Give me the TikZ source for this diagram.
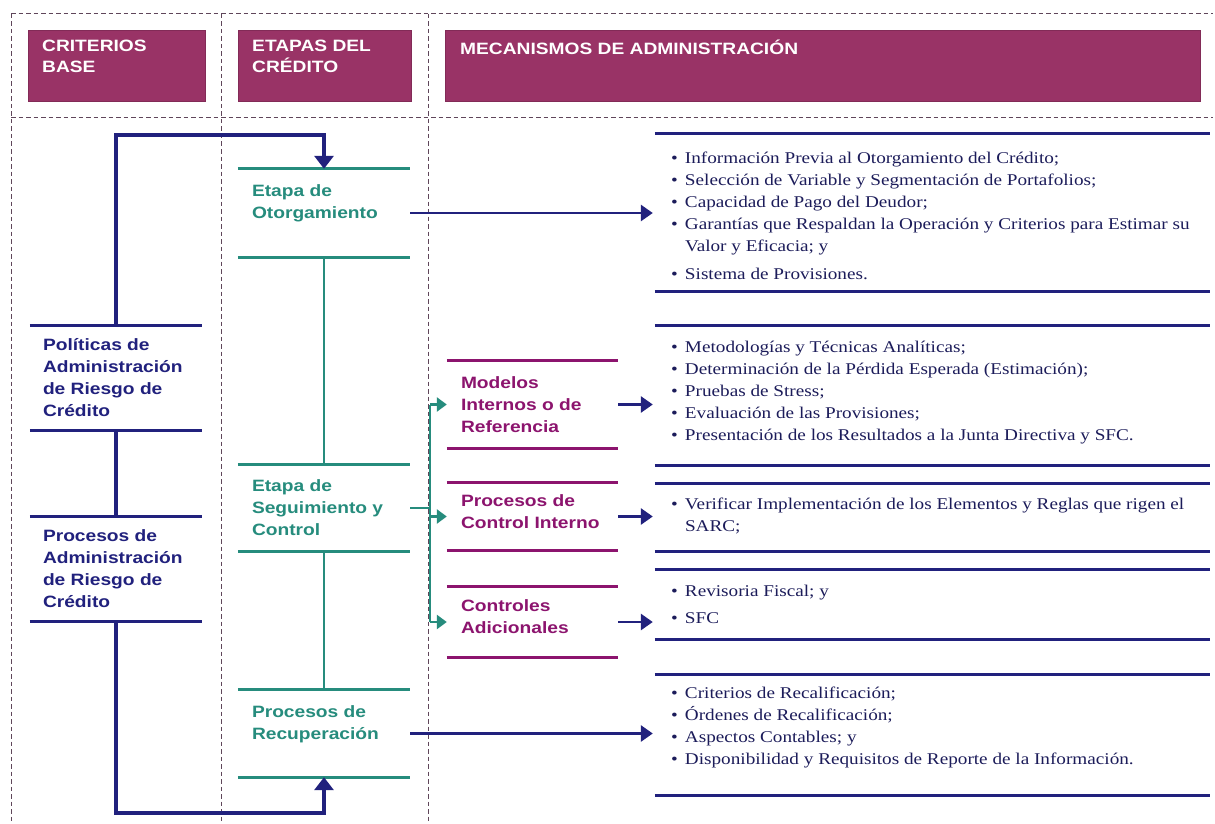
\documentclass[tikz,border=0pt]{standalone}
\usepackage{fontspec}
\setmainfont{Liberation Serif}[FakeStretch=1.17]
\setsansfont{Liberation Sans}[FakeStretch=1.17]
\usetikzlibrary{arrows.meta,calc}
\definecolor{chdr}{RGB}{153,51,102}
\definecolor{cnavy}{RGB}{33,33,125}
\definecolor{cteal}{RGB}{38,140,125}
\definecolor{cpurp}{RGB}{140,20,110}
\definecolor{ctext}{RGB}{28,28,90}
\definecolor{cdash}{RGB}{95,70,90}
\newcommand{\bul}{\makebox[14pt][l]{•}}
\begin{document}
\begin{tikzpicture}[x=1pt,y=-1pt,
  grid/.style={cdash, dash pattern=on 4.5pt off 3pt, line width=1pt},
  hdr/.style={fill=chdr, draw=chdr!85!black, line width=0.5pt, anchor=north west, minimum height=71pt, inner sep=0pt},
  hdrtxt/.style={text=white, font=\sffamily\bfseries\fontsize{16.4}{21}\selectfont, align=left, anchor=north west, inner sep=0pt},
  box/.style={inner sep=0pt, draw=none},
  sanslbl/.style={font=\sffamily\bfseries\fontsize{16.4}{22}\selectfont, align=left, anchor=west, inner sep=0pt},
  serlbl/.style={font=\rmfamily\fontsize{16.4}{22}\selectfont, text=ctext, align=left, anchor=west, inner sep=0pt},
  nline/.style={cnavy, line width=2.8pt},
  tline/.style={cteal, line width=2.8pt},
  pline/.style={cpurp, line width=2.8pt},
  nconn/.style={cnavy, line width=3.2pt, -{Triangle[width=19pt,length=13pt]}},
  narrow/.style={cnavy, line width=2.8pt, -{Triangle[width=16pt,length=12pt]}, shorten >=2pt},
  tarrow/.style={cteal, line width=2.8pt, -{Triangle[width=14pt,length=10pt]}}
]
\useasboundingbox (0,0) rectangle (1215,824);
\fill[white] (0,0) rectangle (1215,824);

% dashed grid
\draw[grid] (11,14) -- (1213,14);
\draw[grid] (11,118) -- (1213,118);
\draw[grid] (11,14) -- (11,824);
\draw[grid] (221,14) -- (221,824);
\draw[grid] (428,14) -- (428,824);

% headers
\node[hdr, minimum width=177pt] (h1) at (28,30) {};
\node[hdr, minimum width=173pt] (h2) at (238,30) {};
\node[hdr, minimum width=755pt] (h3) at (445,30) {};
\node[hdrtxt] (h1t) at ($(h1.north west)+(14,10)$) {CRITERIOS\\BASE};
\node[hdrtxt] (h2t) at ($(h2.north west)+(14,10)$) {ETAPAS DEL\\CRÉDITO};
\node[hdrtxt] (h3t) at ($(h3.north west)+(15,10)$) {MECANISMOS DE ADMINISTRACIÓN};

% left column boxes
\node[box, minimum width=172pt, minimum height=104pt] (pol) at (116,378) {};
\node[box, minimum width=172pt, minimum height=104pt] (proc) at (116,569) {};
% middle column boxes
\node[box, minimum width=172pt, minimum height=88pt] (oto) at (324,213) {};
\node[box, minimum width=172pt, minimum height=86pt] (seg) at (324,508) {};
\node[box, minimum width=172pt, minimum height=87pt] (rec) at (324,733.5) {};
% purple boxes
\node[box, minimum width=171pt, minimum height=87pt] (mod) at (532.5,404.5) {};
\node[box, minimum width=171pt, minimum height=67pt] (ctl) at (532.5,516.5) {};
\node[box, minimum width=171pt, minimum height=70pt] (adi) at (532.5,622) {};
% right groups
\node[box, minimum width=555pt, minimum height=157pt] (g1) at (932.5,212.5) {};
\node[box, minimum width=555pt, minimum height=139pt] (g2) at (932.5,395.5) {};
\node[box, minimum width=555pt, minimum height=67pt] (g3) at (932.5,517.5) {};
\node[box, minimum width=555pt, minimum height=69pt] (g4) at (932.5,604.5) {};
\node[box, minimum width=555pt, minimum height=120pt] (g5) at (932.5,735) {};

% box rules
\foreach \n in {pol,proc,g1,g2,g3,g4,g5}
  \draw[nline] (\n.north west) -- (\n.north east) (\n.south west) -- (\n.south east);
\foreach \n in {oto,seg,rec}
  \draw[tline] (\n.north west) -- (\n.north east) (\n.south west) -- (\n.south east);
\foreach \n in {mod,ctl,adi}
  \draw[pline] (\n.north west) -- (\n.north east) (\n.south west) -- (\n.south east);

% texts
\node[sanslbl, text=cnavy, xshift=13pt] (polt) at (pol.west) {Políticas de\\Administración\\de Riesgo de\\Crédito};
\node[sanslbl, text=cnavy, xshift=13pt] (proct) at (proc.west) {Procesos de\\Administración\\de Riesgo de\\Crédito};
\node[sanslbl, text=cteal, xshift=14pt] (otot) at (oto.west) {Etapa de\\Otorgamiento\\\mbox{}};
\node[sanslbl, text=cteal, xshift=14pt] (segt) at (seg.west) {Etapa de\\Seguimiento y\\Control};
\node[sanslbl, text=cteal, xshift=14pt] (rect) at (rec.west) {Procesos de\\Recuperación\\\mbox{}};
\node[sanslbl, text=cpurp, xshift=14pt] (modt) at (mod.west) {Modelos\\Internos o de\\Referencia};
\node[sanslbl, text=cpurp, xshift=14pt, yshift=5pt] (ctlt) at (ctl.west) {Procesos de\\Control Interno};
\node[sanslbl, text=cpurp, xshift=14pt, yshift=5pt] (adit) at (adi.west) {Controles\\Adicionales};

\node[serlbl, xshift=16pt, yshift=-3pt] (g1t) at (g1.west) {\bul Información Previa al Otorgamiento del Crédito;\\
\bul Selección de Variable y Segmentación de Portafolios;\\
\bul Capacidad de Pago del Deudor;\\
\bul Garantías que Respaldan la Operación y Criterios para Estimar su\\
\hspace*{14pt}Valor y Eficacia; y\\[6pt]
\bul Sistema de Provisiones.};
\node[serlbl, xshift=16pt, yshift=3pt] (g2t) at (g2.west) {\bul Metodologías y Técnicas Analíticas;\\
\bul Determinación de la Pérdida Esperada (Estimación);\\
\bul Pruebas de Stress;\\
\bul Evaluación de las Provisiones;\\
\bul Presentación de los Resultados a la Junta Directiva y SFC.};
\node[serlbl, xshift=16pt, yshift=2pt] (g3t) at (g3.west) {\bul Verificar Implementación de los Elementos y Reglas que rigen el\\
\hspace*{14pt}SARC;};
\node[serlbl, xshift=16pt] (g4t) at (g4.west) {\bul Revisoria Fiscal; y\\[5pt]
\bul SFC};
\node[serlbl, xshift=16pt, yshift=8pt] (g5t) at (g5.west) {\bul Criterios de Recalificación;\\
\bul Órdenes de Recalificación;\\
\bul Aspectos Contables; y\\
\bul Disponibilidad y Requisitos de Reporte de la Información.};

% left connectors
\coordinate (topturn) at (0,135);
\coordinate (botturn) at (0,813);
\draw[nconn] (pol.north) |- (topturn -| oto.north) -- (oto.north);
\draw[nconn] (proc.south) |- (botturn -| rec.south) -- (rec.south);
\draw[cnavy, line width=3.2pt] (pol.south) -- (proc.north);

% middle spine
\draw[tline] (oto.south) -- (seg.north);
\draw[tline] (seg.south) -- (rec.north);

% fan-out bus
\coordinate (bus) at (430,0);
\draw[tline] (seg.east) -- (seg.east -| bus);
\draw[tline] (mod.west -| bus) -- (adi.west -| bus);
\foreach \n in {mod,ctl,adi}
  \draw[tarrow] (\n.west -| bus) -- (\n.west);

% arrows to the right
\draw[narrow] (oto.east) -- (oto.east -| g1.west);
\draw[narrow] (mod.east) -- (mod.east -| g2.west);
\draw[narrow] (ctl.east) -- (ctl.east -| g3.west);
\draw[narrow] (adi.east) -- (adi.east -| g4.west);
\draw[narrow] (rec.east) -- (rec.east -| g5.west);
\end{tikzpicture}
\end{document}
